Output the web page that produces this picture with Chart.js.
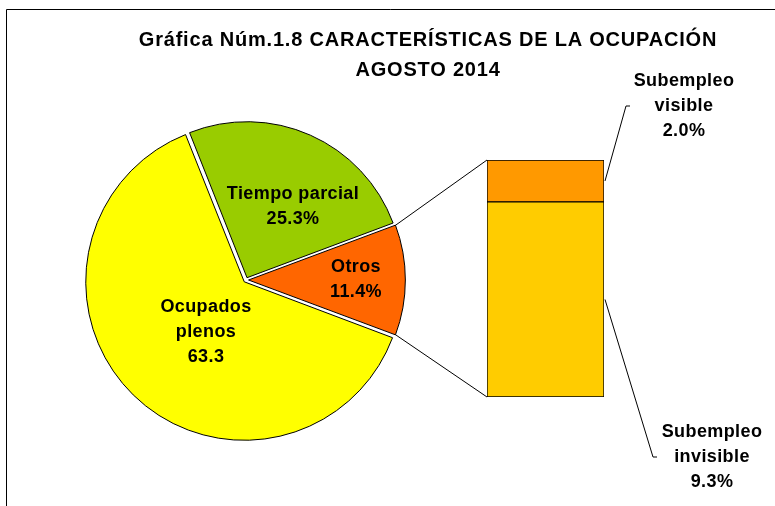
<!DOCTYPE html>
<html lang="es">
<head>
  <meta charset="UTF-8">
  <title>Gráfica Núm.1.8 Características de la ocupación</title>
  <style>
    body {
      margin: 0;
      background: #ffffff;
    }

    #wrap {
      position: relative;
      width: 775px;
      height: 506px;
    }

    #wrap canvas {
      position: absolute;
      left: 0;
      top: 0;
    }
  </style>
</head>
<body>

  <div id="wrap">
    <canvas id="pieChart" width="775" height="506"></canvas>
    <canvas id="barChart" width="775" height="506"></canvas>
  </div>

  <script src="https://cdn.jsdelivr.net/npm/chart.js"></script>
  <script>
    // datos de la gráfica
    const titleLines = ['Gráfica Núm.1.8 CARACTERÍSTICAS DE LA OCUPACIÓN', 'AGOSTO 2014'];

    const pieCategories = ['Otros', 'Ocupados plenos', 'Tiempo parcial'];
    const pieValues = [11.4, 63.3, 25.3];
    const pieLabelLines = [['Otros'], ['Ocupados', 'plenos'], ['Tiempo parcial']];
    const pieSuffix = ['%', '', '%'];

    const barCategories = ['Subempleo invisible', 'Subempleo visible'];
    const barValues = [9.3, 2.0];
    const barLabelLines = [['Subempleo', 'invisible'], ['Subempleo', 'visible']];

    const pieColors = ['#FF6600', '#FFFF00', '#99CC00'];
    const barColors = ['#FFCC00', '#FF9900'];

    const FONT = 'bold 18px "Liberation Sans", Arial, sans-serif';
    const LINE_H = 25;

    function drawLines(ctx, lines, x, y) {
      const top = y - (lines.length - 1) * LINE_H / 2;
      lines.forEach((t, i) => ctx.fillText(t, x, top + i * LINE_H));
    }

    function line(ctx, pts) {
      ctx.beginPath();
      ctx.moveTo(pts[0][0], pts[0][1]);
      for (let i = 1; i < pts.length; i++) ctx.lineTo(pts[i][0], pts[i][1]);
      ctx.stroke();
    }

    const pieTotal = pieValues.reduce((a, b) => a + b, 0);

    // marco + titulo, en el canvas de abajo
    const framePlugin = {
      id: 'frame',
      beforeDraw(chart) {
        const ctx = chart.ctx;
        ctx.save();
        ctx.lineWidth = 1;
        ctx.strokeStyle = '#000';
        line(ctx, [[6.5, 506], [6.5, 9.5], [775, 9.5]]);
        ctx.fillStyle = '#000';
        ctx.font = 'bold 20px "Liberation Sans", Arial, sans-serif';
        ctx.letterSpacing = '0.8px';
        ctx.textAlign = 'center';
        ctx.textBaseline = 'middle';
        ctx.fillText(titleLines[0], 428, 40);
        ctx.fillText(titleLines[1], 428, 70);
        ctx.restore();
      }
    };

    const pieChart = new Chart(document.getElementById('pieChart'), {
      type: 'pie',
      data: {
        labels: pieCategories,
        datasets: [{
          data: pieValues,
          backgroundColor: pieColors,
          borderColor: '#000',
          borderWidth: 1,
          offset: 10,
          hoverOffset: 10
        }]
      },
      options: {
        responsive: false,
        animation: false,
        events: [],
        radius: 156,
        rotation: 90 - pieValues[0] / pieTotal * 180,
        layout: { padding: { left: 0, right: 283, top: 54, bottom: 0 } },
        plugins: { legend: { display: false }, tooltip: { enabled: false } }
      },
      plugins: [framePlugin]
    });

    // etiquetas, conectores y lineas guia
    const labelPos = [[110, 0], [-40, 52], [47, -73.5]];

    const overlayPlugin = {
      id: 'overlay',
      afterDraw(chart) {
        const ctx = chart.ctx;
        const arcs = pieChart.getDatasetMeta(0).data;
        const bars0 = chart.getDatasetMeta(0).data[0];
        const bars1 = chart.getDatasetMeta(1).data[0];
        const left = bars0.x - bars0.width / 2;
        const right = bars0.x + bars0.width / 2;
        const top = bars1.y;
        const bottom = bars0.base;

        ctx.save();
        ctx.strokeStyle = '#000';
        ctx.lineWidth = 1;

        // conectores desde la rebanada "Otros"
        const a = arcs[0];
        const half = (a.startAngle + a.endAngle) / 2;
        const circ = a.endAngle - a.startAngle;
        const sh = 2.5 + 2.5 * (1 - Math.sin(Math.min(Math.PI, circ)));
        const cx = a.x + Math.cos(half) * sh;
        const cy = a.y + Math.sin(half) * sh;
        const r = a.outerRadius;
        line(ctx, [[cx + Math.cos(a.startAngle) * r, cy + Math.sin(a.startAngle) * r], [left, top]]);
        line(ctx, [[cx + Math.cos(a.endAngle) * r, cy + Math.sin(a.endAngle) * r], [left, bottom]]);

        // lineas guia del bar
        const midVis = (bars1.y + bars1.base) / 2;
        const midInv = (bars0.y + bars0.base) / 2;
        const visY = top - 54;
        const invY = bottom + 60;
        line(ctx, [[right + 1, midVis], [right + 22, visY], [right + 26, visY]]);
        line(ctx, [[right + 1, midInv], [right + 49, invY], [right + 53, invY]]);

        // textos
        ctx.fillStyle = '#000';
        ctx.font = FONT;
        ctx.letterSpacing = '0.4px';
        ctx.textAlign = 'center';
        ctx.textBaseline = 'middle';

        arcs.forEach((arc, i) => {
          const txt = pieLabelLines[i].concat([pieValues[i].toFixed(1) + pieSuffix[i]]);
          drawLines(ctx, txt, pieChart.getDatasetMeta(0).data[0].x + labelPos[i][0] + 0, arc.y + labelPos[i][1]);
        });

        drawLines(ctx, barLabelLines[1].concat([barValues[1].toFixed(1) + '%']), right + 80, visY);
        drawLines(ctx, barLabelLines[0].concat([barValues[0].toFixed(1) + '%']), right + 108, invY);

        ctx.restore();
      }
    };

    const barChart = new Chart(document.getElementById('barChart'), {
      type: 'bar',
      data: {
        labels: ['Otros'],
        datasets: barCategories.map((name, i) => ({
          label: name,
          data: [barValues[i]],
          backgroundColor: barColors[i],
          borderColor: '#000',
          borderWidth: 1,
          borderSkipped: false,
          barPercentage: 1,
          categoryPercentage: 1
        }))
      },
      options: {
        responsive: false,
        animation: false,
        events: [],
        layout: { padding: { left: 487, right: 171, top: 160, bottom: 109 } },
        scales: {
          x: { stacked: true, display: false },
          y: { stacked: true, display: false, min: 0, max: barValues.reduce((a, b) => a + b, 0) }
        },
        plugins: { legend: { display: false }, tooltip: { enabled: false } }
      },
      plugins: [overlayPlugin]
    });
  </script>
</body>
</html>
